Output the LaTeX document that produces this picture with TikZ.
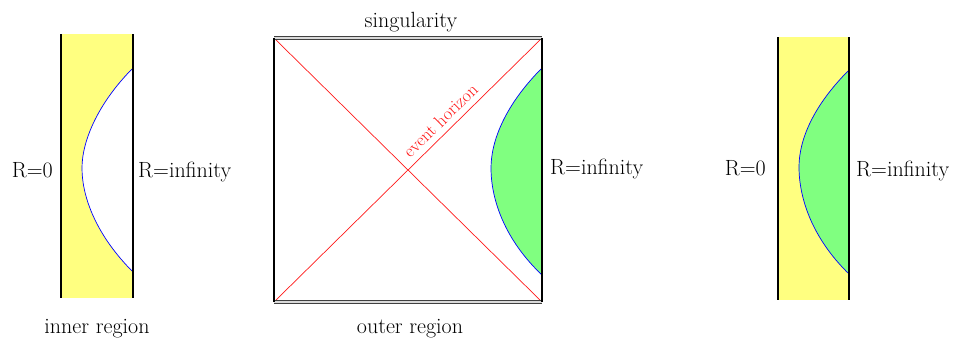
\documentclass[tikz,border=0pt]{standalone}
\usepackage{fontspec}
\usepackage{tikz}
\usetikzlibrary{calc,positioning}
\definecolor{regionyellow}{RGB}{255,255,128}
\definecolor{regiongreen}{RGB}{128,255,128}
\definecolor{horizonred}{RGB}{255,25,25}

\begin{document}
\begin{tikzpicture}[x=1pt,y=-1pt,
    wall/.style={line width=2.6pt,black},
    rim/.style={draw=black!75,line width=0.8pt,double=black!15,double distance=1.8pt},
    orbit/.style={blue,line width=0.7pt},
    lbl/.style={font=\fontsize{22}{26}\selectfont,inner sep=0pt}]
    \useasboundingbox (0,0) rectangle (954,338);
    % Inner region
    \fill[regionyellow] (61,34) rectangle (133,298);
    \fill[white] (133,68) .. controls (99,102) and (82,140) .. (82,168)
      .. controls (82,198) and (97,236) .. (133,272) -- cycle;
    \draw[orbit] (133,68) .. controls (99,102) and (82,140) .. (82,168)
      .. controls (82,198) and (97,236) .. (133,272);
    \draw[wall] (61,34) -- (61,298);
    \draw[wall] (133,34) -- (133,298);
    \node[lbl,anchor=base east] (zeroL) at (53,177) {R=0};
    \node[lbl,anchor=base west] (infL) at (138,177) {R=infinity};
    \node[lbl,anchor=base] (inner) at (97,333) {inner region};
    % Penrose square
    \coordinate (tl) at (274,38);
    \coordinate (tr) at (542,38);
    \coordinate (bl) at (274,302);
    \coordinate (br) at (542,302);
    \fill[regiongreen] (542,68) .. controls (506,104) and (491,140) .. (491,168)
      .. controls (491,200) and (505,240) .. (542,275) -- cycle;
    \draw[orbit] (542,68) .. controls (506,104) and (491,140) .. (491,168)
      .. controls (491,200) and (505,240) .. (542,275);
    \draw[horizonred,line width=0.7pt] (tl) -- (br);
    \draw[horizonred,line width=0.7pt] (bl) -- node[pos=0.654,sloped,above=6pt,
      font=\fontsize{18}{20}\selectfont,inner sep=0pt] (horizon) {event horizon} (tr);
    \draw[rim] (tl) -- (tr);
    \draw[rim] (bl) -- (br);
    \draw[wall] (tl) -- (bl);
    \draw[wall] (tr) -- (br);
    \node[lbl,anchor=base] (sing) at (411,27) {singularity};
    \node[lbl,anchor=base] (outer) at (410,333) {outer region};
    \node[lbl,anchor=base west] (infM) at (550,174) {R=infinity};
    % Outer region
    \fill[regionyellow] (778,37) rectangle (849,300);
    \fill[regiongreen] (849,70) .. controls (813,106) and (799,140) .. (799,167)
      .. controls (799,198) and (812,238) .. (849,274) -- cycle;
    \draw[orbit] (849,70) .. controls (813,106) and (799,140) .. (799,167)
      .. controls (799,198) and (812,238) .. (849,274);
    \draw[wall] (778,37) -- (778,300);
    \draw[wall] (849,37) -- (849,300);
    \node[lbl,anchor=base east] (zeroR) at (766,175) {R=0};
    \node[lbl,anchor=base west] (infR) at (856,176) {R=infinity};
\end{tikzpicture}
\end{document}
